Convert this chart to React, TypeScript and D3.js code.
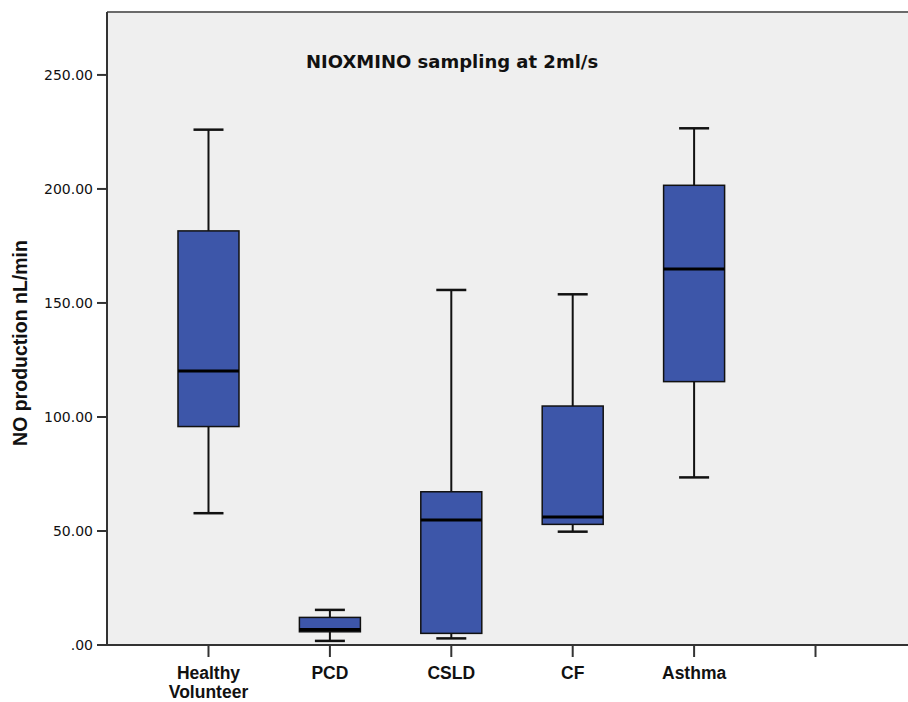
import React from "react";
import * as d3 from "d3";

const categories = ["Healthy Volunteer", "PCD", "CSLD", "CF", "Asthma", " "];
const whiskerLow = [57.8, 1.8, 2.9, 49.7, 73.5];
const q1 = [95.8, 5.8, 5.1, 52.9, 115.5];
const median = [120.2, 6.8, 54.8, 56.1, 164.9];
const q3 = [181.6, 12.1, 67.2, 104.8, 201.6];
const whiskerHigh = [226.0, 15.4, 155.7, 153.8, 226.6];
const yTicks = [0, 50, 100, 150, 200, 250];
const title = "NIOXMINO sampling at 2ml/s";
const yTitle = "NO production nL/min";

const W = 908, H = 702;
const left = 107, top = 12, bottom = 645;

export default function App() {
  const y = d3.scaleLinear().domain([0, 277.6]).range([bottom, top]);
  const x = d3.scalePoint<string>().domain(categories).range([left, 917]).padding(0.836);
  const boxW = 61, capW = 30;
  const fmt = (v: number) => (v === 0 ? ".00" : d3.format(".2f")(v));
  const boxes = categories.slice(0, 5).map((c, i) => ({
    c, cx: x(c) as number, lo: whiskerLow[i], q1: q1[i], med: median[i], q3: q3[i], hi: whiskerHigh[i],
  }));
  return (
    <svg width={W} height={H} style={{ position: "absolute", left: 0, top: 0, background: "#fff" }}
      fontFamily="Liberation Sans, Arial, sans-serif">
      <rect x={left} y={top} width={W - left} height={bottom - top} fill="#efefef" />
      <line x1={left} x2={W} y1={top} y2={top} stroke="#6a6a6a" strokeWidth={2} />
      {boxes.map((b) => (
        <g key={b.c}>
          <line x1={b.cx} x2={b.cx} y1={y(b.hi)} y2={y(b.q3)} stroke="#111" strokeWidth={2} />
          <line x1={b.cx} x2={b.cx} y1={y(b.q1)} y2={y(b.lo)} stroke="#111" strokeWidth={2} />
          <line x1={b.cx - capW / 2} x2={b.cx + capW / 2} y1={y(b.hi)} y2={y(b.hi)} stroke="#111" strokeWidth={2.5} />
          <line x1={b.cx - capW / 2} x2={b.cx + capW / 2} y1={y(b.lo)} y2={y(b.lo)} stroke="#111" strokeWidth={2.5} />
          <rect x={b.cx - boxW / 2} y={y(b.q3)} width={boxW} height={y(b.q1) - y(b.q3)}
            fill="#3d56a9" stroke="#111" strokeWidth={1.5} />
          <line x1={b.cx - boxW / 2} x2={b.cx + boxW / 2} y1={y(b.med)} y2={y(b.med)} stroke="#000" strokeWidth={3} />
        </g>
      ))}
      <line x1={left} x2={left} y1={top} y2={bottom} stroke="#333" strokeWidth={2} />
      {yTicks.map((t) => (
        <g key={t}>
          <line x1={left - 10} x2={left} y1={y(t)} y2={y(t)} stroke="#333" strokeWidth={2} />
          <text x={left - 14} y={y(t)} dy="0.36em" textAnchor="end" fontSize={14}
            fontFamily="DejaVu Sans, Verdana, sans-serif" fill="#111">{fmt(t)}</text>
        </g>
      ))}
      <line x1={left} x2={W} y1={bottom} y2={bottom} stroke="#333" strokeWidth={2} />
      {categories.map((c) => (
        <g key={c}>
          <line x1={x(c)} x2={x(c)} y1={bottom} y2={bottom + 12} stroke="#333" strokeWidth={2} />
          {c.split(" ").map((w, j) => (
            <text key={j} x={x(c)} y={679 + j * 18.5} textAnchor="middle" fontSize={17.5} fontWeight="bold"
              fill="#111">{w}</text>
          ))}
        </g>
      ))}
      <text x={306} y={68} fontSize={18} fontWeight="bold" fontFamily="DejaVu Sans, Verdana, sans-serif"
        fill="#111">{title}</text>
      <text transform={`translate(27,343) rotate(-90)`} textAnchor="middle" fontSize={19.5} fontWeight="bold" fill="#111">{yTitle}</text>
    </svg>
  );
}
